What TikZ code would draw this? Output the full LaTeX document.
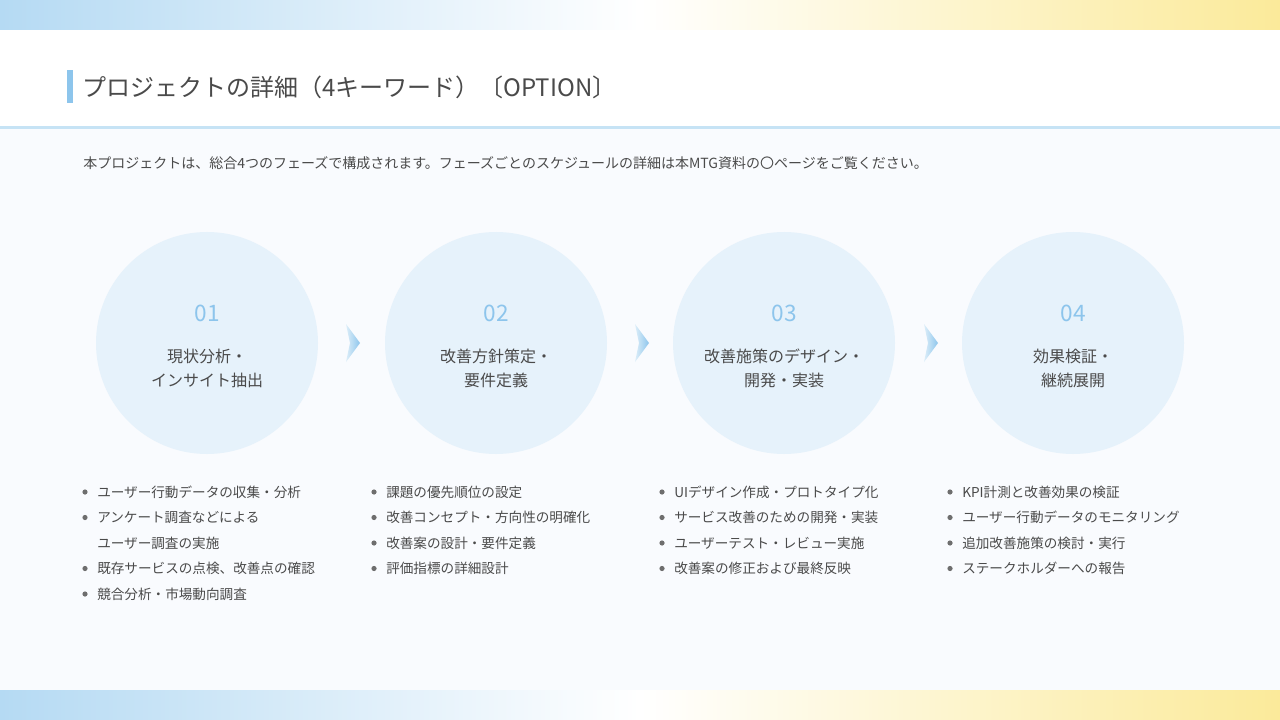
\documentclass[tikz,border=0pt]{standalone}
\usepackage{fontspec}
\setmainfont{Noto Sans CJK JP}
\usetikzlibrary{shadings}
\definecolor{bluebar}{HTML}{B5DAF3}
\definecolor{yelbar}{HTML}{FBEA9A}
\definecolor{circ}{HTML}{E6F2FB}
\definecolor{numc}{HTML}{8DC5EC}
\definecolor{txt}{HTML}{4A4A4A}
\definecolor{bg}{HTML}{F9FBFE}
\definecolor{lineb}{HTML}{C6E3F5}
\tikzset{
 numtxt/.style={font=\fontsize{17}{20}\selectfont, text=numc},
 lbl/.style={font=\fontsize{12}{18}\selectfont, text=txt, align=center},
 blt/.style={font=\fontsize{10.2}{14}\selectfont, text=txt, anchor=west, inner sep=0},
 dotc/.style={fill=txt!80, draw=none},
 chev/.style={left color=lineb!60, right color=numc, draw=none},
}
\begin{document}
\begin{tikzpicture}[x=0.75pt,y=-0.75pt]
\useasboundingbox (0,0) rectangle (1280,720);
\fill[bg] (0,0) rectangle (1280,720);
\fill[white] (0,30) rectangle (1280,127);
\shade[left color=bluebar, right color=white, draw=none] (0,0) rectangle (640,30);
\shade[left color=white, right color=yelbar, draw=none] (640,0) rectangle (1280,30);
\shade[left color=bluebar, right color=white, draw=none] (0,690) rectangle (640,720);
\shade[left color=white, right color=yelbar, draw=none] (640,690) rectangle (1280,720);
\fill[lineb] (0,126) rectangle (1280,129);
\fill[numc] (67,70) rectangle (73,103);
\node[anchor=west, inner sep=0, text=txt, font=\fontsize{18}{22}\selectfont] (title) at (82,87) {プロジェクトの詳細（4キーワード）〔OPTION〕};
\node[anchor=west, inner sep=0, text=txt, font=\fontsize{10.5}{14}\selectfont] (sub) at (83,163) {本プロジェクトは、総合4つのフェーズで構成されます。フェーズごとのスケジュールの詳細は本MTG資料の〇ページをご覧ください。};
\foreach \cx/\n/\l [count=\i] in {207/01/{現状分析・\\インサイト抽出},496/02/{改善方針策定・\\要件定義},784/03/{改善施策のデザイン・\\開発・実装},1073/04/{効果検証・\\継続展開}}{
  \fill[circ] (\cx,343) circle[radius=111];
  \node[numtxt] (n\i) at (\cx,313) {\n};
  \node[lbl] (l\i) at (\cx,368) {\l};
}
\foreach \ax in {346,635,924}{
  \shade[chev] (\ax,324) -- (\ax+14,343) -- (\ax,362) -- (\ax+4,343) -- cycle;
}
\foreach \bx/\items in {
 85/{ユーザー行動データの収集・分析,アンケート調査などによる,,既存サービスの点検、改善点の確認,競合分析・市場動向調査},
 374/{課題の優先順位の設定,改善コンセプト・方向性の明確化,改善案の設計・要件定義,評価指標の詳細設計},
 662/{UIデザイン作成・プロトタイプ化,サービス改善のための開発・実装,ユーザーテスト・レビュー実施,改善案の修正および最終反映},
 950/{KPI計測と改善効果の検証,ユーザー行動データのモニタリング,追加改善施策の検討・実行,ステークホルダーへの報告}}{
  \foreach \t [count=\j] in \items {
    \pgfmathsetmacro{\yy}{492+(\j-1)*25.5}
    \ifx\t\empty\else
      \fill[dotc] (\bx,\yy) circle[radius=2.6];
      \node[blt] at (\bx+12,\yy) {\t};
    \fi
  }
}
\node[blt] (extra) at (97,543) {ユーザー調査の実施};
\end{tikzpicture}
\end{document}
